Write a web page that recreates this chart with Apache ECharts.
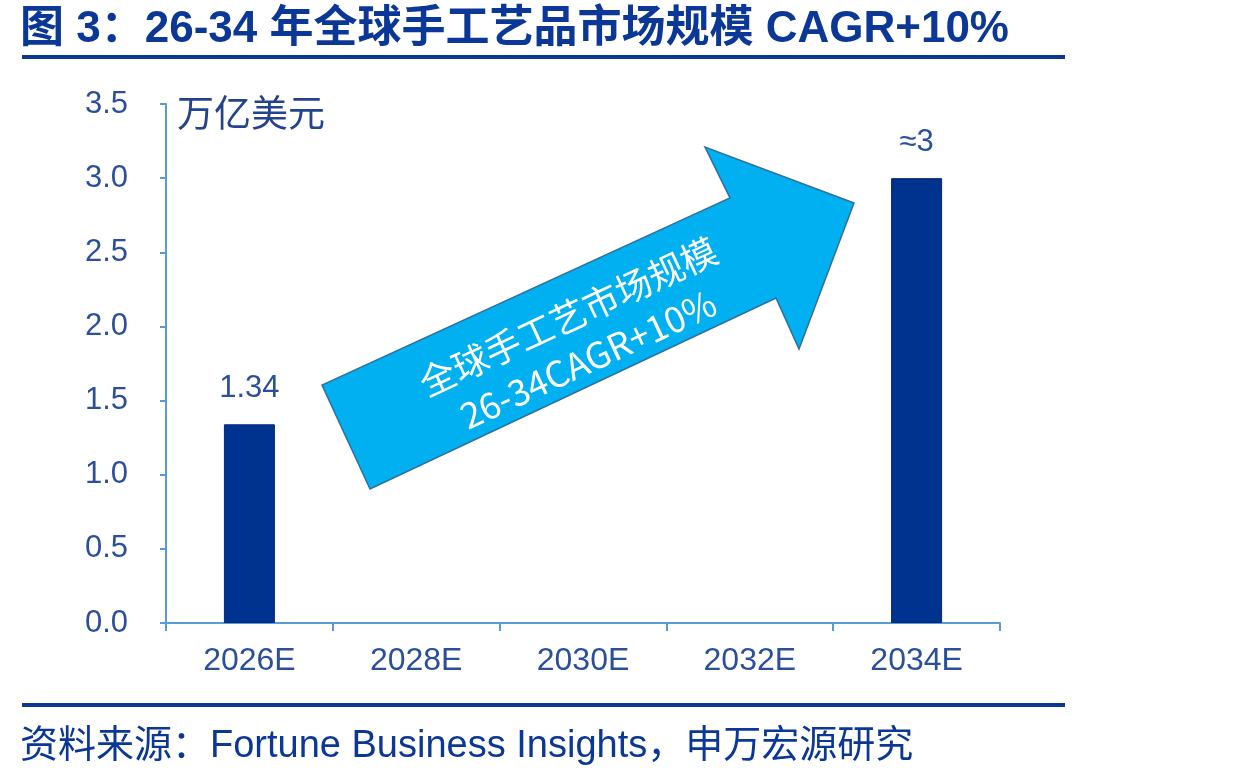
<!DOCTYPE html>
<html>
<head>
<meta charset="utf-8">
<title>全球手工艺品市场规模</title>
<script src="https://cdn.jsdelivr.net/npm/echarts@6/dist/echarts.min.js"></script>
<style>
    html, body { margin: 0; padding: 0; background: #ffffff; }
    #main { width: 1234px; height: 781px; }
</style>
</head>
<body>
<div id="main"></div>
<script>
// 数据
var categories = ['2026E', '2028E', '2030E', '2032E', '2034E'];
var marketSize = [1.34, null, null, null, 3];
var barLabels = ['1.34', '', '', '', '≈3'];
var yTicks = { min: 0, max: 3.5, interval: 0.5 };

var titleText = '图 3：26-34 年全球手工艺品市场规模 CAGR+10%';
var sourceText = '资料来源：Fortune Business Insights，申万宏源研究';
var unitText = '万亿美元';
var arrowText = '全球手工艺市场规模\n26-34CAGR+10%';

var fontFamily = '"Liberation Sans", Arial, "Noto Sans CJK SC", sans-serif';
var navy = '#0b3797';
var labelColor = '#2c4f9c';
var axisBlue = '#5b9bd5';

var myChart = echarts.init(document.getElementById('main'));
var option = {
    backgroundColor: '#ffffff',
    animation: false,
    title: [
        {
            text: titleText,
            left: 20,
            top: 8,
            padding: 0,
            textStyle: {
                fontFamily: fontFamily,
                fontSize: 44,
                fontWeight: 'bold',
                color: navy
            }
        },
        {
            text: sourceText,
            left: 20,
            top: 728,
            padding: 0,
            textStyle: {
                fontFamily: fontFamily,
                fontSize: 38,
                fontWeight: 'normal',
                color: navy
            }
        }
    ],
    grid: {
        left: 166,
        right: 234,
        top: 104,
        bottom: 158,
        containLabel: false
    },
    xAxis: {
        type: 'category',
        data: categories,
        axisLine: { lineStyle: { color: axisBlue, width: 2 } },
        axisTick: { show: true, length: 8, lineStyle: { color: axisBlue, width: 2 } },
        axisLabel: {
            margin: 22,
            fontFamily: fontFamily,
            fontSize: 32,
            color: labelColor
        }
    },
    yAxis: {
        type: 'value',
        min: yTicks.min,
        max: yTicks.max,
        interval: yTicks.interval,
        splitLine: { show: false },
        axisLine: { show: true, lineStyle: { color: axisBlue, width: 2 } },
        axisTick: { show: true, length: 6, lineStyle: { color: axisBlue, width: 2 } },
        axisLabel: {
            margin: 38,
            fontFamily: fontFamily,
            fontSize: 31,
            color: labelColor,
            formatter: function (v) { return v.toFixed(1); }
        }
    },
    series: [
        {
            type: 'bar',
            data: marketSize,
            barWidth: 51,
            itemStyle: {
                color: '#00328f',
                borderColor: '#00267a',
                borderWidth: 1
            },
            label: {
                show: true,
                position: 'top',
                distance: 20,
                fontFamily: fontFamily,
                fontSize: 31,
                color: labelColor,
                formatter: function (p) { return barLabels[p.dataIndex]; }
            }
        }
    ],
    graphic: [
        // 标题下划线
        { type: 'rect', left: 22, top: 55, shape: { width: 1043, height: 4 }, style: { fill: navy } },
        // 底部分隔线
        { type: 'rect', left: 22, top: 703, shape: { width: 1043, height: 4 }, style: { fill: navy } },
        // 单位
        {
            type: 'text',
            x: 177,
            y: 113,
            style: {
                text: unitText,
                fontFamily: '"Noto Sans CJK SC", sans-serif',
                fontSize: 37,
                fill: '#23438f',
                textVerticalAlign: 'middle'
            }
        },
        // 箭头
        {
            type: 'polygon',
            shape: {
                points: [[370, 489], [322, 385], [730, 198], [705, 147], [854, 203], [799, 349], [776, 298]]
            },
            style: { fill: '#00b0f0', stroke: '#2f6f9f', lineWidth: 1.5 }
        },
        {
            type: 'text',
            x: 578,
            y: 338,
            rotation: 25 * Math.PI / 180,
            style: {
                text: arrowText,
                fontFamily: '"Noto Sans CJK SC", sans-serif',
                fontSize: 36,
                lineHeight: 47,
                fill: '#ffffff',
                textAlign: 'center',
                textVerticalAlign: 'middle'
            }
        }
    ]
};
myChart.setOption(option);
</script>
</body>
</html>
